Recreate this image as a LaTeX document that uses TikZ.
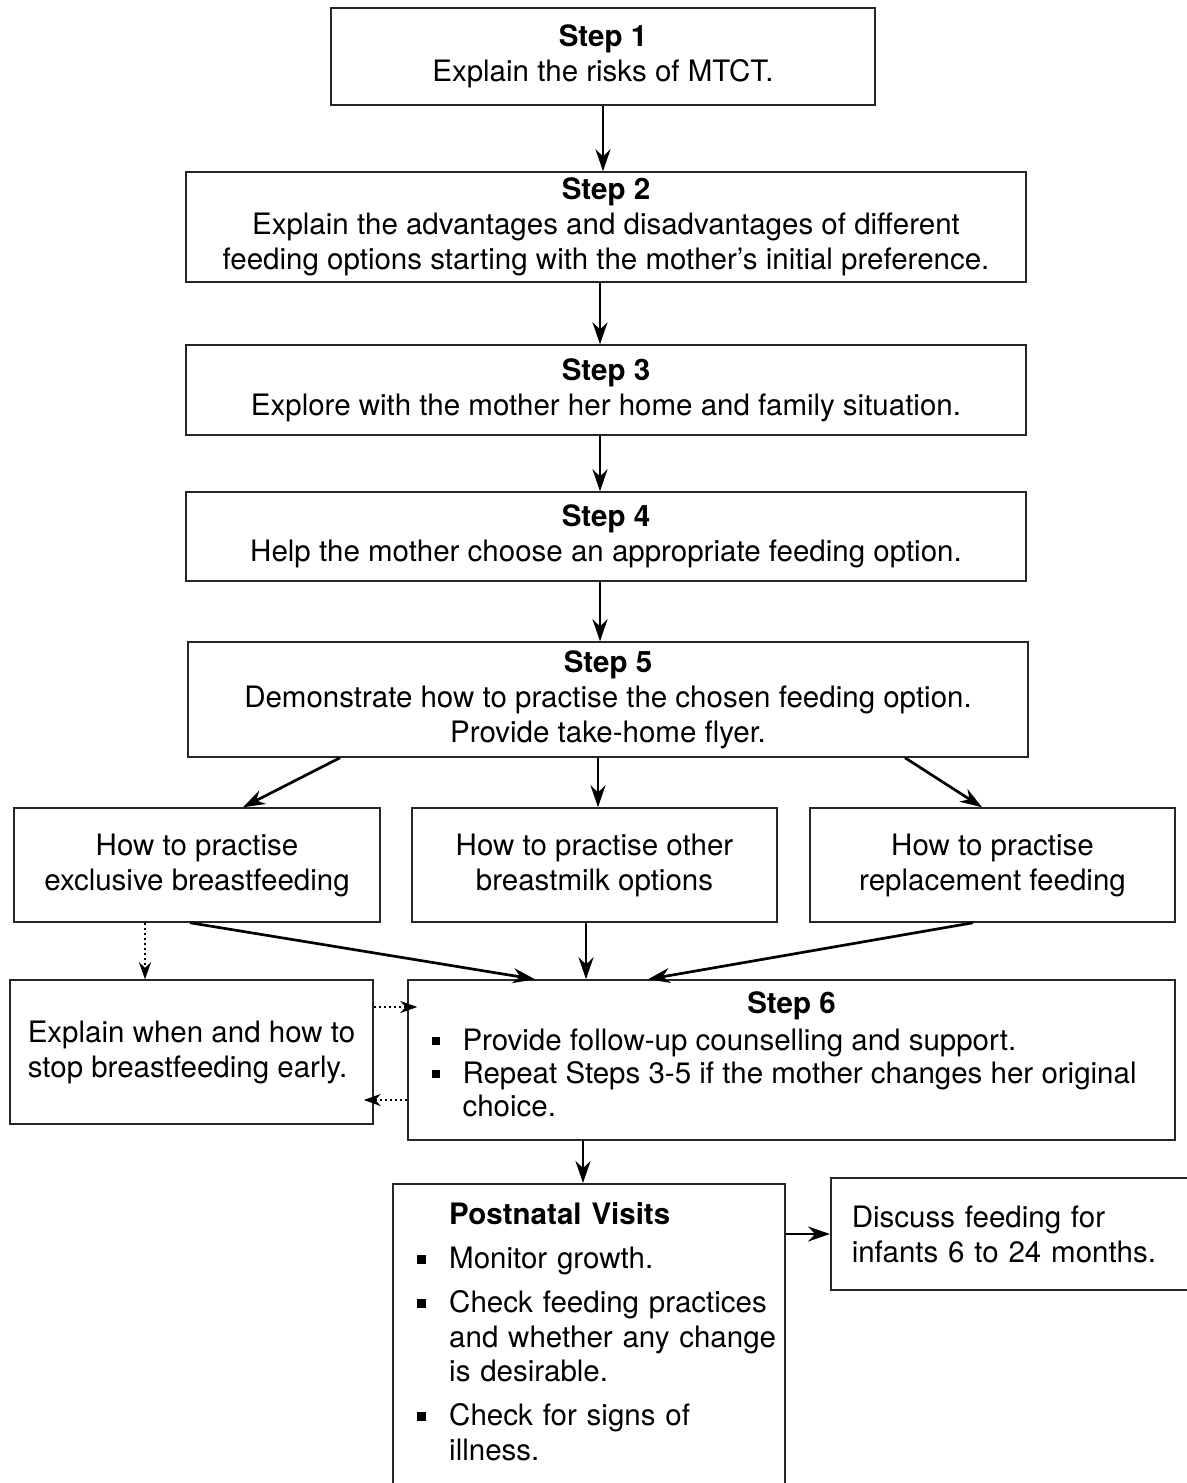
\documentclass[tikz,border=0pt]{standalone}
\usepackage{fontspec}
\setmainfont{TeX Gyre Heros}
\usetikzlibrary{arrows.meta}
\newcommand\myfs{\fontsize{29.5}{35}\selectfont}
\newcommand\bsq{\rule[5pt]{8.5pt}{8.5pt}}
\newcommand\bitem[3]{\par\noindent\hangindent=#2\hangafter=1\makebox[#2][l]{\hspace*{#1}\bsq}#3\par}
\begin{document}
\begin{tikzpicture}[x=1pt,y=-1pt,
  box/.style={draw=black!85,line width=1.5pt,inner sep=0pt,align=center,font=\myfs},
  arr/.style={-{Stealth[length=22pt,width=15pt]},line width=2.7pt},
  dotarr/.style={-{Stealth[length=17pt,width=12pt]},line width=2.2pt,dash pattern=on 2pt off 3pt}]
\useasboundingbox (0,0) rectangle (1186,1483);
\fill[white] (0,0) rectangle (1186,1483);

\node[box,minimum width=544pt,minimum height=97pt] (s1) at (603,56.5) {\textbf{Step 1}\\Explain the risks of MTCT.};
\node[box,minimum width=840pt,minimum height=110pt] (s2) at (606,227) {\textbf{Step 2}\\Explain the advantages and disadvantages of different\\feeding options starting with the mother's initial preference.};
\node[box,minimum width=840pt,minimum height=90pt] (s3) at (606,390) {\textbf{Step 3}\\Explore with the mother her home and family situation.};
\node[box,minimum width=840pt,minimum height=89pt] (s4) at (606,536.5) {\textbf{Step 4}\\Help the mother choose an appropriate feeding option.};
\node[box,minimum width=840pt,minimum height=115pt] (s5) at (608,699.5) {\textbf{Step 5}\\Demonstrate how to practise the chosen feeding option.\\Provide take-home flyer.};
\node[box,minimum width=366pt,minimum height=114pt] (a) at (197,865) {How to practise\\exclusive breastfeeding};
\node[box,minimum width=365pt,minimum height=114pt] (b) at (594.5,865) {How to practise other\\breastmilk options};
\node[box,minimum width=365pt,minimum height=114pt] (c) at (992.5,865) {How to practise\\replacement feeding};
\node[box,align=left,minimum width=363pt,minimum height=144pt] (d) at (191.5,1052) {Explain when and how to\\stop breastfeeding early.};
\node[box,minimum width=767pt,minimum height=160pt] (s6) at (791.5,1060) {\begin{minipage}{745pt}\fontsize{29.5}{33}\selectfont\centering\textbf{Step 6}\par\vspace{4pt}\raggedright
 \bitem{12.5pt}{43.5pt}{Provide follow-up counselling and support.}
 \bitem{12.5pt}{43.5pt}{Repeat Steps 3-5 if the mother changes her original\hfil\break choice.}\vspace{12pt}\end{minipage}};
\node[box,minimum width=392pt,minimum height=330pt,anchor=north] (pv) at (589,1183) {};
\node[anchor=north west,inner sep=0pt,font=\fontsize{29.5}{34.5}\selectfont,text width=390pt,align=left] (pvt) at (393,1202.5) {\noindent\hspace*{56pt}\textbf{Postnatal Visits}\par
\vspace{9.5pt}\bitem{24pt}{56pt}{Monitor growth.}
\vspace{9.5pt}\bitem{24pt}{56pt}{Check feeding practices\hfil\break and whether any change\hfil\break is desirable.}
\vspace{9.5pt}\bitem{24pt}{56pt}{Check for signs of\hfil\break illness.}};
\node[box,align=left,text width=360pt,inner xsep=21pt,minimum height=112pt,anchor=west] (ds) at (830,1234) {Discuss feeding for\\infants 6 to 24 months.};

\draw[arr] (s1.south) -- (s1.south |- s2.north);
\draw[arr] ([xshift=-6pt]s2.south) -- ([xshift=-6pt]s2.south |- s3.north);
\draw[arr] ([xshift=-6pt]s3.south) -- ([xshift=-6pt]s3.south |- s4.north);
\draw[arr] ([xshift=-6pt]s4.south) -- ([xshift=-6pt]s4.south |- s5.north);
\draw[arr] ([xshift=-268pt]s5.south) -- ([xshift=46pt]a.north);
\draw[arr] ([xshift=-10pt]s5.south) -- ([xshift=-10pt]s5.south |- b.north);
\draw[arr] ([xshift=297pt]s5.south) -- ([xshift=-10.5pt]c.north);
\draw[arr] ([xshift=-7pt]a.south) -- ([xshift=-256.5pt]s6.north);
\draw[arr] ([xshift=-8.5pt]b.south) -- ([xshift=-8.5pt]b.south |- s6.north);
\draw[arr] ([xshift=-19.5pt]c.south) -- ([xshift=-143.5pt]s6.north);
\draw[dotarr] ([xshift=-52pt]a.south) -- ([xshift=-52pt]a.south |- d.north);
\draw[dotarr,shorten >=-10pt] ([yshift=45pt]d.east) -- ([yshift=45pt]d.east -| s6.west);
\draw[dotarr,shorten >=-10pt] ([yshift=-40pt]s6.west) -- ([yshift=-40pt]s6.west -| d.east);
\draw[arr] ([xshift=-208.5pt]s6.south) -- ([xshift=-208.5pt]s6.south |- pv.north);
\draw[arr] (ds.west -| pv.east) -- (ds.west);
\end{tikzpicture}
\end{document}
